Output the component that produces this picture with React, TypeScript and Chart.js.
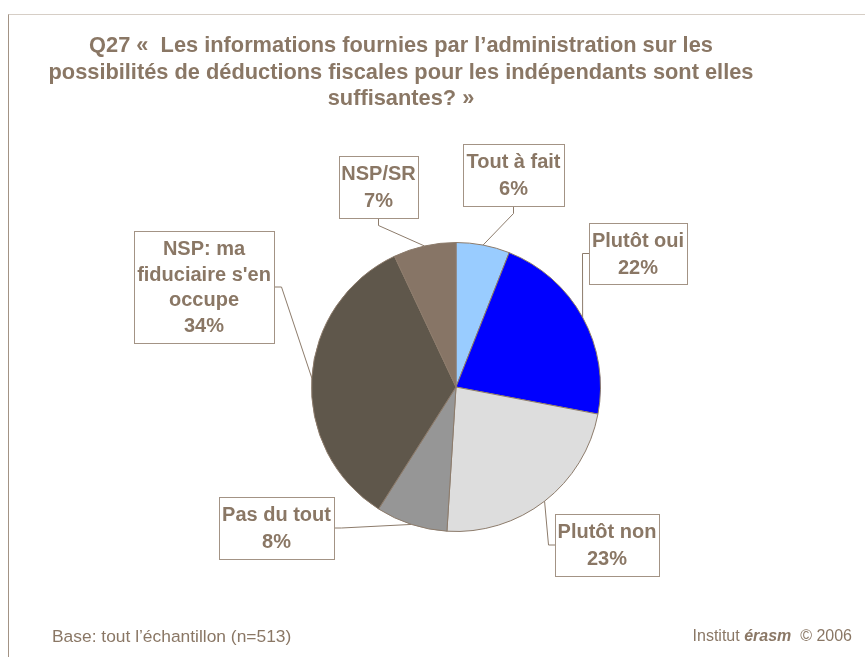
import React, { useEffect, useRef } from "react";
import { Chart, registerables } from "chart.js";

Chart.register(...registerables);

const TITLE_LINES = [
  "Q27 «\u00a0 Les informations fournies par l’administration sur les",
  "possibilités de déductions fiscales pour les indépendants sont elles",
  "suffisantes? »",
];
const CATEGORIES = ["Tout à fait", "Plutôt oui", "Plutôt non", "Pas du tout", "NSP: ma fiduciaire s'en occupe", "NSP/SR"];
const VALUES = [6, 22, 23, 8, 34, 7];
const COLORS = ["#99CCFF", "#0000FF", "#DDDDDD", "#969696", "#5F574B", "#877566"];
const FOOTER_LEFT = "Base: tout l’échantillon (n=513)";
const FOOTER_RIGHT_PRE = "Institut ";
const FOOTER_RIGHT_BRAND = "érasm";
const FOOTER_RIGHT_POST = "\u00a0 ©\u00a02006";

// label box layout relative to pie centre: centre offset, size, side of box where the leader starts
const LABEL_LAYOUT = [
  { dx: 57.5, dy: -212, w: 101, h: 62, side: "bottom" },
  { dx: 182, dy: -133.5, w: 98, h: 61, side: "left" },
  { dx: 151, dy: 158, w: 104, h: 62, side: "left" },
  { dx: -179.5, dy: 141, w: 115, h: 62, side: "right" },
  { dx: -252, dy: -100, w: 140, h: 112, side: "right" },
  { dx: -77.5, dy: -200, w: 79, h: 62, side: "bottom" },
];

const TEXT_COLOR = "#8A7765";
const BOX_BORDER = "#A39385";
const FONT = '"Liberation Sans", Arial, sans-serif';

function wrap(ctx: CanvasRenderingContext2D, text: string, maxW: number): string[] {
  const words = text.split(" ");
  const lines: string[] = [];
  let cur = "";
  for (const w of words) {
    const t = cur ? cur + " " + w : w;
    if (cur && ctx.measureText(t).width > maxW) {
      lines.push(cur);
      cur = w;
    } else cur = t;
  }
  if (cur) lines.push(cur);
  return lines;
}

const labelPlugin = {
  id: "boxLabels",
  afterDatasetsDraw(chart: any) {
    const ctx: CanvasRenderingContext2D = chart.ctx;
    const meta = chart.getDatasetMeta(0);
    ctx.save();
    meta.data.forEach((arc: any, i: number) => {
      const p = arc.getProps(["x", "y", "startAngle", "endAngle", "outerRadius"], true);
      const mid = (p.startAngle + p.endAngle) / 2;
      const ax = p.x + Math.cos(mid) * p.outerRadius;
      const ay = p.y + Math.sin(mid) * p.outerRadius;
      const L = LABEL_LAYOUT[i];
      const cx = p.x + L.dx;
      const cy = p.y + L.dy;
      const left = Math.round(cx - L.w / 2) + 0.5;
      const top = Math.round(cy - L.h / 2) + 0.5;
      let sx = cx, sy = cy, ex = cx, ey = cy;
      if (L.side === "bottom") { sx = cx; sy = top + L.h; ex = sx; ey = sy + 7; }
      if (L.side === "left") { sx = left; sy = cy; ex = sx - 7; ey = sy; }
      if (L.side === "right") { sx = left + L.w; sy = cy; ex = sx + 7; ey = sy; }
      ctx.strokeStyle = "#8C7B6B";
      ctx.lineWidth = 1;
      ctx.beginPath();
      ctx.moveTo(sx, sy);
      ctx.lineTo(ex, ey);
      ctx.lineTo(ax, ay);
      ctx.stroke();
      ctx.fillStyle = "#FFFFFF";
      ctx.fillRect(left, top, L.w, L.h);
      ctx.strokeStyle = BOX_BORDER;
      ctx.strokeRect(left, top, L.w, L.h);
      ctx.font = "bold 20px " + FONT;
      ctx.fillStyle = TEXT_COLOR;
      ctx.textAlign = "center";
      ctx.textBaseline = "middle";
      const lines = wrap(ctx, CATEGORIES[i], L.w);
      lines.push(VALUES[i] + "%");
      const lh = lines.length > 2 ? 25.5 : 27;
      const y0 = cy - ((lines.length - 1) * lh) / 2;
      lines.forEach((ln, k) => ctx.fillText(ln, cx, y0 + k * lh + 1));
    });
    ctx.restore();
  },
};

export default function App() {
  const ref = useRef<HTMLCanvasElement>(null);
  useEffect(() => {
    if (!ref.current) return;
    const chart = new Chart(ref.current, {
      type: "pie",
      data: {
        labels: CATEGORIES,
        datasets: [
          {
            data: VALUES,
            backgroundColor: COLORS,
            borderColor: "#8C7B6B",
            borderWidth: 1,
          },
        ],
      },
      options: {
        responsive: false,
        animation: false,
        layout: { padding: { left: 311, right: 264, top: 242, bottom: 125 } },
        plugins: { legend: { display: false }, tooltip: { enabled: false }, title: { display: false } },
      },
      plugins: [labelPlugin],
    });
    return () => chart.destroy();
  }, []);

  return (
    <div style={{ position: "fixed", left: 0, top: 0, width: 865, height: 657, background: "#fff", overflow: "hidden", fontFamily: FONT }}>
      <div style={{ position: "absolute", left: 8, top: 14, width: 870, height: 660, borderTop: "1px solid #D6CEC6", borderLeft: "1px solid #A39385" }} />
      <canvas ref={ref} width={865} height={657} style={{ position: "absolute", left: 0, top: 0 }} />
      <div style={{ position: "absolute", left: 0, top: 32, width: 802, textAlign: "center", fontWeight: "bold", fontSize: 21.8, lineHeight: "26.5px", color: TEXT_COLOR, whiteSpace: "nowrap" }}>
        {TITLE_LINES.map((t, i) => (
          <div key={i}>{t}</div>
        ))}
      </div>
      <div style={{ position: "absolute", left: 52, top: 626, fontSize: 17.4, lineHeight: "20px", color: TEXT_COLOR, whiteSpace: "nowrap" }}>{FOOTER_LEFT}</div>
      <div style={{ position: "absolute", right: 13, top: 626, fontSize: 16, lineHeight: "20px", color: TEXT_COLOR, whiteSpace: "nowrap" }}>
        {FOOTER_RIGHT_PRE}
        <b><i>{FOOTER_RIGHT_BRAND}</i></b>
        {FOOTER_RIGHT_POST}
      </div>
    </div>
  );
}
